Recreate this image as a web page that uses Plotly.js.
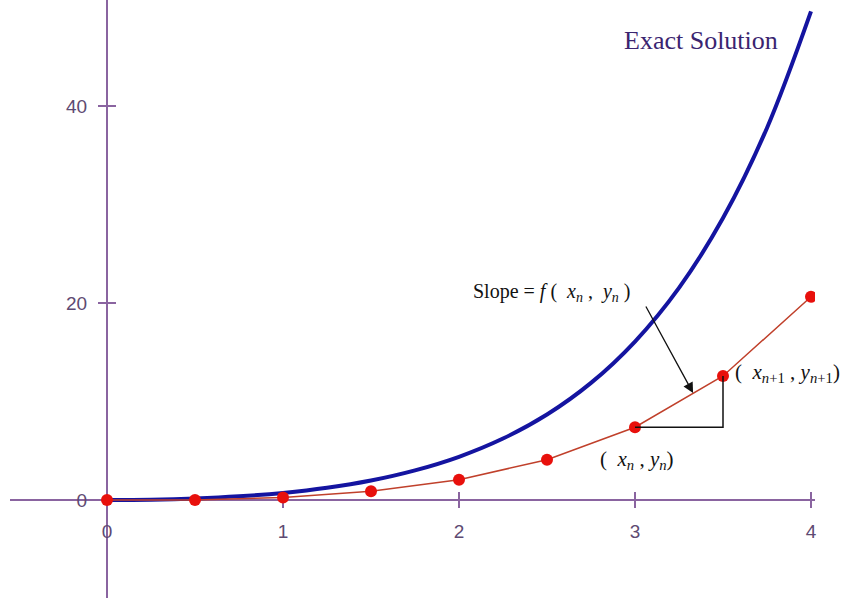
<!DOCTYPE html>
<html>
<head>
<meta charset="utf-8">
<script src="https://cdn.plot.ly/plotly-3.0.1.min.js"></script>
<style>
  html, body { margin: 0; padding: 0; background: #ffffff; }
  #chart { width: 860px; height: 603px; }
</style>
</head>
<body>
<div id="chart"></div>
<script>
// Euler's method steps (h = 0.5) for y' = x + y, y(0) = 0
const xEuler = [0, 0.5, 1, 1.5, 2, 2.5, 3, 3.5, 4];
const yEuler = [0, 0, 0.25, 0.88, 2.06, 4.09, 7.39, 12.59, 20.63];

// Exact solution sampled along x
const xExact = [0, 0.25, 0.5, 0.75, 1, 1.25, 1.5, 1.75, 2, 2.25, 2.5, 2.75, 3, 3.25, 3.5, 3.75, 4];
const yExact = [0, 0.03, 0.15, 0.37, 0.72, 1.24, 1.98, 3.01, 4.39, 6.24, 8.68, 11.89, 16.09, 21.54, 28.62, 37.77, 49.6];

// Axis ticks
const xTickVals = [0, 1, 2, 3, 4];
const xTickText = ['0', '1', '2', '3', '4'];
const yTickVals = [0, 20, 40];
const yTickText = ['0', '20', '40'];

const axisColor = '#8a64a0';
const labelColor = '#5e4a72';
const tickFont = { family: 'Liberation Sans, Arial, sans-serif', size: 19, color: labelColor };
const serif = 'Liberation Serif, Times New Roman, serif';
const sp = '\u00a0';

const W = 860, H = 603;
// pixel layout of the crossing axes
const px0 = 107, pxPerUnit = 176;     // x = 0 position, pixels per x unit
const py0 = 500, pyPerUnit = 9.85;    // y = 0 position, pixels per y unit
const xLeftPx = 10, xRightPx = 815;
const yBottomPx = 598, yTopPx = 0;

const xRange = [(xLeftPx - px0) / pxPerUnit, (xRightPx - px0) / pxPerUnit];
const yRange = [(py0 - yBottomPx) / pyPerUnit, (py0 - yTopPx) / pyPerUnit];

const traces = [
  {
    x: xExact, y: yExact, type: 'scatter', mode: 'lines',
    line: { color: '#1414a0', width: 4, shape: 'spline' },
    hoverinfo: 'skip'
  },
  {
    x: xEuler, y: yEuler, type: 'scatter', mode: 'lines+markers',
    line: { color: '#c0402b', width: 1.5 },
    marker: { color: '#e8100c', size: 12 },
    hoverinfo: 'skip'
  }
];

const shapes = [];
xTickVals.filter(v => v !== 0).forEach(v => shapes.push({
  type: 'line', xref: 'x', yref: 'y', x0: v, x1: v,
  ysizemode: 'pixel', yanchor: 0, y0: -8, y1: 8,
  line: { color: axisColor, width: 2 }, layer: 'below'
}));
yTickVals.filter(v => v !== 0).forEach(v => shapes.push({
  type: 'line', xref: 'x', yref: 'y', y0: v, y1: v,
  xsizemode: 'pixel', xanchor: 0, x0: -9, x1: 9,
  line: { color: axisColor, width: 2 }, layer: 'below'
}));
// rise/run triangle of one Euler step
shapes.push({
  type: 'path', xref: 'x', yref: 'y',
  path: `M ${xEuler[6]},${yEuler[6]} L ${xEuler[7]},${yEuler[6]} L ${xEuler[7]},${yEuler[7]}`,
  line: { color: '#111111', width: 1.5 }
});

const annotations = [
  {
    x: 3.375, y: 46.7, xref: 'x', yref: 'y', showarrow: false,
    text: 'Exact Solution',
    font: { family: serif, size: 26, color: '#3a2470' }
  },
  {
    x: 2.07, y: 22.5, xref: 'x', yref: 'y', xanchor: 'left', yanchor: 'top', showarrow: false,
    text: 'Slope = <i>f</i>' + sp + '(' + sp + sp + '<i>x</i><sub><i>n</i></sub>' + sp + ',' + sp + sp +
          '<i>y</i><sub><i>n</i></sub>' + sp + ')',
    font: { family: serif, size: 20, color: '#111111' }
  },
  {
    x: 3.33, y: 10.86, xref: 'x', yref: 'y', text: '', showarrow: true,
    ax: -48, ay: -88, arrowhead: 2, arrowsize: 1.6, arrowwidth: 1.3, arrowcolor: '#111111'
  },
  {
    x: 3.555, y: 14.4, xref: 'x', yref: 'y', xanchor: 'left', yanchor: 'top', showarrow: false,
    text: '(' + sp + sp + '<i>x</i><sub><i>n</i>+1</sub>' + sp + ',' + sp + '<i>y</i><sub><i>n</i>+1</sub>)',
    font: { family: serif, size: 21, color: '#111111' }
  },
  {
    x: 2.79, y: 5.6, xref: 'x', yref: 'y', xanchor: 'left', yanchor: 'top', showarrow: false,
    text: '(' + sp + sp + '<i>x</i><sub><i>n</i></sub>' + sp + ',' + sp + '<i>y</i><sub><i>n</i></sub>)',
    font: { family: serif, size: 21, color: '#111111' }
  }
];

const layout = {
  width: W, height: H,
  margin: { l: 0, r: 0, t: 0, b: 0, pad: 0 },
  paper_bgcolor: '#ffffff', plot_bgcolor: '#ffffff',
  showlegend: false,
  xaxis: {
    domain: [xLeftPx / W, xRightPx / W],
    range: xRange, anchor: 'free', position: (H - py0) / H,
    showline: true, linecolor: axisColor, linewidth: 2,
    showgrid: false, zeroline: false, ticks: '',
    tickmode: 'array', tickvals: xTickVals, ticktext: xTickText,
    tickfont: tickFont, ticklabelstandoff: 14, layer: 'below traces',
    fixedrange: true
  },
  yaxis: {
    domain: [(H - yBottomPx) / H, (H - yTopPx) / H],
    range: yRange, anchor: 'free', position: px0 / W,
    showline: true, linecolor: axisColor, linewidth: 2,
    showgrid: false, zeroline: false, ticks: '',
    tickmode: 'array', tickvals: yTickVals, ticktext: yTickText,
    tickfont: tickFont, ticklabelstandoff: 15, layer: 'below traces',
    fixedrange: true
  },
  shapes: shapes,
  annotations: annotations
};

Plotly.newPlot('chart', traces, layout, { displayModeBar: false, staticPlot: true });
</script>
</body>
</html>
